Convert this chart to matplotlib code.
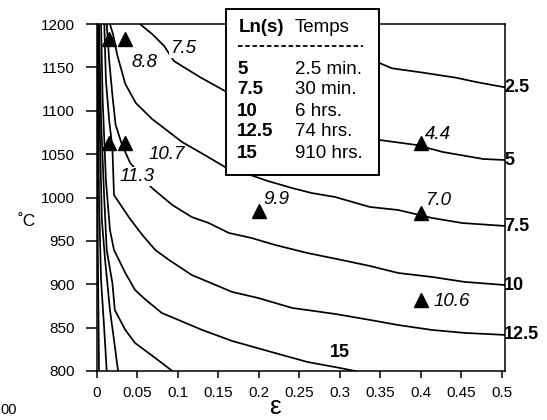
import matplotlib
matplotlib.use("Agg")
import matplotlib.pyplot as plt
from matplotlib.patches import Rectangle
from matplotlib.lines import Line2D

plt.rcParams['font.family'] = ['Liberation Sans', 'DejaVu Sans']

# ---- contour lines (strain eps, temperature degC) ----
eps_25 = [0.26, 0.30, 0.325, 0.349, 0.364, 0.402, 0.444, 0.469, 0.504]
T_25 = [1200, 1176, 1164, 1155, 1149, 1144, 1138, 1133, 1127]

eps_5 = [0.053, 0.068, 0.083, 0.095, 0.127, 0.158, 0.251, 0.349, 0.395, 0.427, 0.477, 0.504]
T_5 = [1200, 1188.5, 1174.6, 1157.3, 1138.9, 1122.8, 1089.3, 1066.3, 1060.5, 1052.5, 1044.4, 1043.2]

eps_75 = [0.016, 0.020, 0.025, 0.035, 0.048, 0.068, 0.089, 0.105, 0.133, 0.158, 0.186, 0.211,
          0.241, 0.265, 0.294, 0.337, 0.372, 0.414, 0.451, 0.504]
T_75 = [1200, 1187.3, 1164.3, 1130.8, 1108.9, 1090.5, 1075.5, 1064.0, 1049.0, 1035.2, 1027.1, 1019.0,
        1010.9, 1005.2, 1000.6, 989.1, 985.6, 976.4, 970.6, 967.2]

eps_10 = [0.012, 0.015, 0.019, 0.023, 0.031, 0.041, 0.068, 0.093, 0.117, 0.138, 0.163, 0.191,
          0.220, 0.260, 0.302, 0.337, 0.372, 0.414, 0.454, 0.504]
T_10 = [1200, 1158.5, 1118.2, 1083.6, 1060.5, 1039.8, 1010.9, 991.4, 977.5, 970.6, 959.1, 953.3,
        945.3, 936.0, 928.0, 921.1, 913.0, 908.4, 902.7, 899.1]

eps_125 = [0.009, 0.011, 0.015, 0.019, 0.021, 0.040, 0.056, 0.072, 0.089, 0.117, 0.167, 0.199,
           0.241, 0.294, 0.337, 0.372, 0.414, 0.454, 0.504]
T_125 = [1200, 1135.4, 1089.3, 1057.1, 1002.9, 976.4, 956.8, 939.5, 928.0, 910.7, 891.1, 884.2,
         872.7, 865.8, 858.9, 853.0, 847.3, 843.9, 841.6]

eps_15 = [0.005, 0.007, 0.011, 0.016, 0.021, 0.035, 0.047, 0.059, 0.080, 0.130, 0.167, 0.220,
          0.260, 0.300, 0.319]
T_15 = [1200, 1112.4, 1020.2, 962.5, 939.5, 913.0, 893.4, 883.0, 866.9, 847.3, 834.6, 820.7,
        810.4, 803.5, 800]

eps_175 = [0.0025, 0.005, 0.009, 0.012, 0.019, 0.022, 0.035, 0.047, 0.072, 0.093]
T_175 = [1200, 1089.3, 997.1, 939.5, 901.4, 870.3, 847.3, 832.3, 815.0, 800]

eps_20 = [0.001, 0.004, 0.006, 0.010, 0.016, 0.021, 0.026]
T_20 = [1200, 1054.8, 974.1, 928.0, 870.3, 835.7, 800]

eps_225 = [0.0006, 0.0025, 0.005, 0.009, 0.012]
T_225 = [1200, 997.1, 904.9, 847.3, 800]

eps_25b = [0.0003, 0.001, 0.0025]
T_25b = [1200, 939.5, 800]

contour_lines = [(eps_25, T_25), (eps_5, T_5), (eps_75, T_75), (eps_10, T_10),
                 (eps_125, T_125), (eps_15, T_15), (eps_175, T_175), (eps_20, T_20),
                 (eps_225, T_225), (eps_25b, T_25b)]

# ---- measured points ----
pt_eps = [0.015, 0.035, 0.015, 0.035, 0.2, 0.4, 0.4, 0.4]
pt_T = [1183, 1183, 1063, 1063, 985, 1063, 982, 882]
pt_labels = ['8.8', '7.5', '11.3', '10.7', '9.9', '4.4', '7.0', '10.6']
pt_label_pos = [(0.059, 1156), (0.106, 1172), (0.049, 1024), (0.086, 1049),
                (0.222, 998), (0.421, 1073), (0.421, 997), (0.438, 880)]

# right-side contour labels
right_labels = ['2.5', '5', '7.5', '10', '12.5']
right_label_T = [1127, 1043, 967, 899, 841.6]

# legend table
leg_ln = ['5', '7.5', '10', '12.5', '15']
leg_temps = ['2.5 min.', '30 min.', '6 hrs.', '74 hrs.', '910 hrs.']

xticks = [0, 0.05, 0.1, 0.15, 0.2, 0.25, 0.3, 0.35, 0.4, 0.45, 0.5]
xtick_labels = ['0', '0.05', '0.1', '0.15', '0.2', '0.25', '0.3', '0.35', '0.4', '0.45', '0.5']
yticks = [800, 850, 900, 950, 1000, 1050, 1100, 1150, 1200]

W, H = 547, 420
fig = plt.figure(figsize=(W / 100, H / 100), dpi=100)
ax = fig.add_axes([97 / W, 1 - 371 / H, (505 - 97) / W, (371 - 24) / H])
ax.set_xlim(0, 0.504)
ax.set_ylim(800, 1200)

for ex, ty in contour_lines:
    ax.plot(ex, ty, color='black', lw=1.25, solid_joinstyle='round', zorder=2)

ax.plot(pt_eps, pt_T, linestyle='none', marker='^', ms=10, color='black', zorder=4)
for lab, (lx, ly) in zip(pt_labels, pt_label_pos):
    ax.text(lx, ly, lab, fontsize=13.5, style='italic', ha='center', va='center', zorder=3,
            bbox=dict(facecolor='white', edgecolor='none', pad=0.5))

for lab, ty in zip(right_labels, right_label_T):
    ax.text(0.503, ty, lab, fontsize=13, fontweight='bold', ha='left', va='center',
            clip_on=False)
ax.text(0.3, 821, '15', fontsize=13, fontweight='bold', ha='center', va='center')

ax.set_xticks(xticks)
ax.set_xticklabels(xtick_labels)
ax.set_yticks(yticks)
ax.tick_params(axis='y', direction='out', length=8, width=1.1, pad=8, labelsize=11)
ax.tick_params(axis='x', direction='out', length=5, width=1.1, pad=6, labelsize=11)
for s in ax.spines.values():
    s.set_linewidth(1.1)

# legend box (figure pixel coordinates)
def fx(px):
    return px / W

def fy(py):
    return 1 - py / H

fig.patches.append(Rectangle((fx(226), fy(175)), fx(379) - fx(226), fy(9) - fy(175),
                             transform=fig.transFigure, facecolor='white',
                             edgecolor='black', lw=1.4, zorder=10))
fig.text(fx(239), fy(28), 'Ln(s)', fontsize=13.5, fontweight='bold', va='center', zorder=11)
fig.text(fx(295), fy(28), 'Temps', fontsize=13.5, va='center', zorder=11)
fig.lines.append(Line2D([fx(238), fx(363)], [fy(46), fy(46)], transform=fig.transFigure,
                        color='black', lw=1.3, linestyle=(0, (2.5, 1.5)), zorder=11))
row_y = [69, 90, 111, 132, 153]
for ln, tp, ry in zip(leg_ln, leg_temps, row_y):
    fig.text(fx(237), fy(ry), ln, fontsize=13.5, fontweight='bold', va='center', zorder=11)
    fig.text(fx(295), fy(ry), tp, fontsize=13.5, va='center', zorder=11)

fig.text(fx(275), fy(407), 'ε', fontsize=19, ha='center', va='center')
fig.text(fx(27), fy(222), '˚C', fontsize=12.5, ha='center', va='center')
fig.text(fx(0), fy(410), '00', fontsize=10.5, ha='left', va='center')

fig.savefig('out.png', dpi=100)
